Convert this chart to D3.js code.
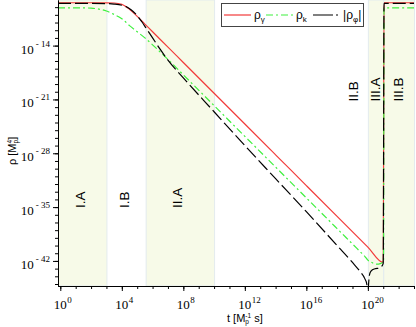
<!DOCTYPE html>
<html>
<head>
<meta charset="utf-8">
<script src="https://cdn.jsdelivr.net/npm/d3@7"></script>
<style>
  body { margin: 0; background: #fff; }
  svg { display: block; }
</style>
</head>
<body>
<svg id="chart" width="416" height="327"></svg>
<script>
// values are [log10 t, log10 rho]
const rhoGamma = [
    [-0.15, -8.43], [2, -8.43], [3, -8.44], [3.5, -8.46], [4, -8.63], [4.5, -9.27],
    [5, -10.2], [5.5, -11.2], [6, -12.2], [7, -14.2], [8, -16.2], [10, -20.2],
    [12, -24.2], [14, -28.2], [16, -32.2], [18, -36.2], [20, -40.2], [21.0, -42.2],
    [21.05, -8.43], [23, -8.43]
];
const rhoK = [
    [-0.15, -9.1], [1.5, -9.1], [2, -9.13], [2.5, -9.25], [3, -9.5], [3.5, -9.95],
    [4, -10.5], [4.5, -11.4], [5, -12.2], [5.5, -13.0], [6, -13.9], [7, -15.8],
    [8, -17.8], [10, -21.8], [12, -25.8], [14, -29.8], [16, -33.8], [18, -37.8],
    [19, -39.8], [19.5, -40.8], [19.8, -41.4], [20.0, -41.9], [20.2, -42.15],
    [20.4, -42.35], [20.6, -42.42], [20.8, -42.35], [20.95, -42.2], [21.02, -42.1],
    [21.05, -9.1], [23, -9.1]
];
const rhoPhi = [
    [-0.15, -8.52], [2, -8.52], [3, -8.54], [3.5, -8.6], [4, -8.75], [4.3, -8.95],
    [4.6, -9.35], [5, -10.1], [5.3, -10.9], [5.6, -11.8], [6, -13.0], [6.5, -14.5],
    [7, -15.9], [8, -18.2], [10, -22.6], [12, -27.0], [14, -31.3], [16, -35.6],
    [18, -40.0], [19, -42.2], [19.5, -43.4], [19.8, -44.3], [19.93, -45.0],
    [19.99, -47], [20.03, -45.5], [20.08, -44.2], [20.15, -43.5], [20.3, -43.15],
    [20.5, -43.0], [20.7, -42.95], [20.85, -42.8], [20.95, -42.55], [21.0, -42.3],
    [21.05, -8.52], [23, -8.52]
];

const regionNames = ['I.A', 'I.B', 'II.A', 'II.B', 'III.A', 'III.B'];
const regionEdges = [-0.15, 3, 5.55, 10, 20, 21, 23];
const regionShaded = [true, false, true, false, true, true];
const regionLabelT = [1.31, 4.14, 7.59, 19.06, 20.47, 21.95];

const xMajor = [0, 4, 8, 12, 16, 20];
const yMajor = [-14, -21, -28, -35, -42];

const svg = d3.select('#chart');
const plotLeft = 58, plotRight = 414, plotTop = 0, plotBottom = 286;

const x = d3.scaleLog().domain([10 ** -0.15, 10 ** 23]).range([plotLeft, plotRight]);
const y = d3.scaleLog().domain([10 ** -45.26, 10 ** -8.07]).range([plotBottom, plotTop]);

const serif = "'Liberation Serif', 'Times New Roman', serif";
const sans = "'Liberation Sans', Arial, sans-serif";

svg.append('clipPath').attr('id', 'plot-clip')
    .append('rect')
    .attr('x', plotLeft).attr('y', plotTop)
    .attr('width', plotRight - plotLeft).attr('height', plotBottom - plotTop);

// shaded regions
regionNames.forEach((name, i) => {
    if (regionShaded[i]) {
        svg.append('rect')
            .attr('x', x(10 ** regionEdges[i]) + 0.5)
            .attr('y', plotTop)
            .attr('width', x(10 ** regionEdges[i + 1]) - x(10 ** regionEdges[i]))
            .attr('height', plotBottom - plotTop)
            .attr('fill', '#f7fae8')
            .attr('stroke', '#e3ebee')
            .attr('stroke-width', 1);
    }
});

// region labels
regionNames.forEach((name, i) => {
    const lx = x(10 ** regionLabelT[i]);
    const ly = i < 3 ? 208 : 101.5;
    svg.append('text')
        .attr('transform', `translate(${lx},${ly}) rotate(-90)`)
        .attr('dy', '0.36em')
        .attr('font-family', sans)
        .attr('font-size', '13.5px')
        .attr('fill', '#000')
        .text(name);
});

// curves
const line = d3.line()
    .x(d => x(10 ** d[0]))
    .y(d => y(10 ** d[1]))
    .curve(d3.curveMonotoneX);

const curves = svg.append('g').attr('clip-path', 'url(#plot-clip)');

curves.append('path')
    .attr('d', line(rhoGamma))
    .attr('fill', 'none')
    .attr('stroke', '#f23a3a')
    .attr('stroke-width', 1.2);

curves.append('path')
    .attr('d', line(rhoK))
    .attr('fill', 'none')
    .attr('stroke', '#3ef03e')
    .attr('stroke-width', 1.2)
    .attr('stroke-dasharray', '7,3,2,3');

curves.append('path')
    .attr('d', line(rhoPhi))
    .attr('fill', 'none')
    .attr('stroke', '#000')
    .attr('stroke-width', 1.2)
    .attr('stroke-dasharray', '13,4');

// axes
const xDecades = d3.range(0, 24);
const yDecades = d3.range(-45, -8);

svg.append('g')
    .attr('transform', `translate(0,${plotBottom})`)
    .call(d3.axisBottom(x).tickValues(xDecades.map(d => 10 ** d)).tickSize(3).tickSizeOuter(0).tickFormat(''));
svg.append('g')
    .attr('transform', `translate(0,${plotBottom})`)
    .call(d3.axisBottom(x).tickValues(xMajor.map(d => 10 ** d)).tickSize(5).tickSizeOuter(0).tickFormat(''));

svg.append('g')
    .attr('transform', `translate(${plotLeft},0)`)
    .call(d3.axisLeft(y).tickValues(yDecades.map(d => 10 ** d)).tickSize(3).tickSizeOuter(0).tickFormat(''));
svg.append('g')
    .attr('transform', `translate(${plotLeft},0)`)
    .call(d3.axisLeft(y).tickValues(yMajor.map(d => 10 ** d)).tickSize(5).tickSizeOuter(0).tickFormat(''));

svg.selectAll('.domain').attr('stroke', '#000');
svg.selectAll('.tick line').attr('stroke', '#000');

// tick labels
xMajor.forEach(e => {
    const t = svg.append('text')
        .attr('x', x(10 ** e) - 6.5)
        .attr('y', 309)
        .attr('font-family', serif)
        .attr('font-size', '13px')
        .attr('fill', '#000');
    t.append('tspan').text('10');
    t.append('tspan').attr('dy', -6).attr('dx', 0.5).attr('font-size', '9px').text(e);
});

yMajor.forEach(e => {
    const t = svg.append('text')
        .attr('x', 50)
        .attr('y', y(10 ** e) + 8)
        .attr('text-anchor', 'end')
        .attr('font-family', serif)
        .attr('font-size', '13px')
        .attr('fill', '#000');
    t.append('tspan').text('10');
    t.append('tspan').attr('dy', -7).attr('dx', 2).attr('font-size', '9px').text('- ' + Math.abs(e));
});

// axis titles
const xt = svg.append('text')
    .attr('x', 227)
    .attr('y', 322)
    .attr('font-family', sans)
    .attr('font-size', '11px')
    .attr('fill', '#000');
xt.append('tspan').text('t [M');
xt.append('tspan').attr('dy', 2).attr('font-size', '6.5px').text('p');
xt.append('tspan').attr('dy', -6).attr('dx', -3.6).attr('font-size', '6.5px').text('-1');
xt.append('tspan').attr('dy', 4).text(' s]');

const yt = svg.append('text')
    .attr('transform', 'translate(16,165) rotate(-90)')
    .attr('font-family', sans)
    .attr('font-size', '11px')
    .attr('fill', '#000');
yt.append('tspan').text('ρ [M');
yt.append('tspan').attr('dy', 2).attr('font-size', '6.5px').text('p');
yt.append('tspan').attr('dy', -6).attr('dx', -3.6).attr('font-size', '6.5px').text('4');
yt.append('tspan').attr('dy', 4).text(']');

// legend
const legend = svg.append('g');
legend.append('rect')
    .attr('x', 221.5).attr('y', 3.5)
    .attr('width', 142).attr('height', 23)
    .attr('fill', '#fff')
    .attr('stroke', '#444')
    .attr('stroke-width', 1);

const legendItems = [
    { x: 224, color: '#f23a3a', dash: null, label: 'ρ', sub: 'γ', bars: false },
    { x: 266, color: '#3ef03e', dash: '7,3,2,3', label: 'ρ', sub: 'k', bars: false },
    { x: 313, color: '#000', dash: '20,3,2,3', label: 'ρ', sub: 'φ', bars: true }
];

legendItems.forEach(item => {
    legend.append('line')
        .attr('x1', item.x).attr('x2', item.x + 27)
        .attr('y1', 15).attr('y2', 15)
        .attr('stroke', item.color)
        .attr('stroke-width', 1.2)
        .attr('stroke-dasharray', item.dash);
    const t = legend.append('text')
        .attr('x', item.x + 30)
        .attr('y', 19)
        .attr('font-family', sans)
        .attr('font-size', '12px')
        .attr('fill', '#000');
    if (item.bars) t.append('tspan').text('|');
    t.append('tspan').text(item.label);
    t.append('tspan').attr('dy', 3).attr('font-size', '8px').text(item.sub);
    if (item.bars) t.append('tspan').attr('dy', -3).text('|');
});
</script>
</body>
</html>
